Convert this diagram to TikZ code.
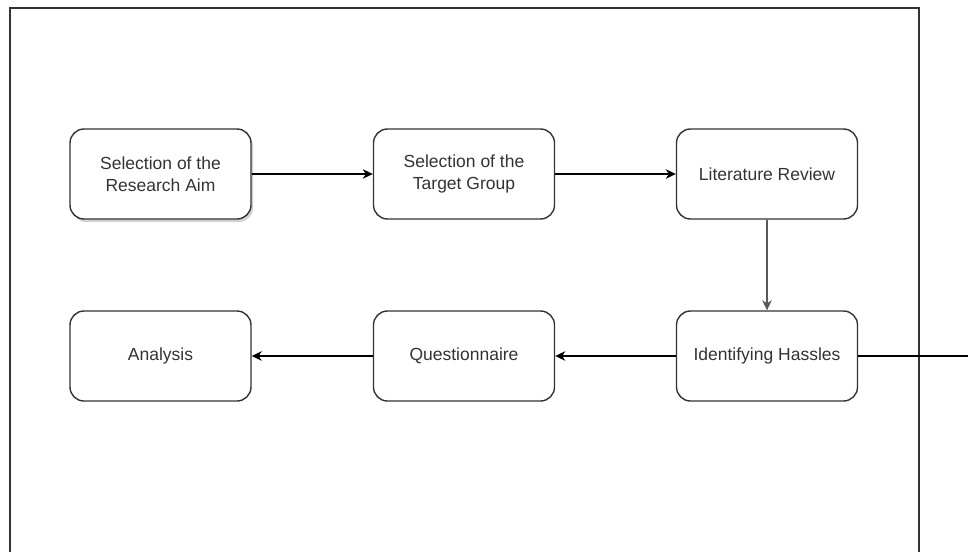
\documentclass[tikz,border=0pt]{standalone}
\usepackage{fontspec}
\setmainfont{Liberation Sans}
\usepackage{xcolor}
\usepackage{tikz}
\usetikzlibrary{shapes}
\usetikzlibrary{shadows}
\usetikzlibrary{arrows.meta}
\tikzset{>={Stealth[length=10pt,width=9.5pt,inset=3pt]}}
\definecolor{boxline}{HTML}{333333}
\definecolor{boxtext}{HTML}{333333}

\begin{document}
\begin{tikzpicture}[x=1pt, y=-1pt,
    stepbox/.style={draw=boxline, line width=1.4pt, fill=white, rounded corners=14pt,
      minimum width=181pt, minimum height=90pt, align=center, text=boxtext,
      font=\fontsize{17.5}{22}\selectfont, inner sep=0pt},
    flow/.style={->, line width=1.3pt, black}]
      \clip (0,0) rectangle (968,551);
      \fill[white] (0,0) rectangle (968,551);
      % outer frame
      \draw[boxline, line width=1.2pt] (10,560) -- (10,8) -- (919,8) -- (919,560);
      % top row
      \node[stepbox, drop shadow={opacity=0.35, shadow xshift=2pt, shadow yshift=-3pt}]
        (aim) at (160.5,174) {Selection of the\\Research Aim};
      \node[stepbox] (group) at (464,174) {Selection of the\\Target Group};
      \node[stepbox] (review) at (767,174) {Literature Review};
      % bottom row
      \node[stepbox] (hassles) at (767,356) {Identifying Hassles};
      \node[stepbox] (quest) at (464,356) {Questionnaire};
      \node[stepbox] (analysis) at (160.5,356) {Analysis};
      \coordinate (out) at (975,356);
      \draw[flow] (aim) -- (group);
      \draw[flow] (group) -- (review);
      \draw[flow, black!65] (review) -- (hassles);
      \draw[flow] (hassles) -- (quest);
      \draw[flow] (quest) -- (analysis);
      \draw[line width=1.3pt] (hassles) -- (out);
    \end{tikzpicture}
\end{document}
